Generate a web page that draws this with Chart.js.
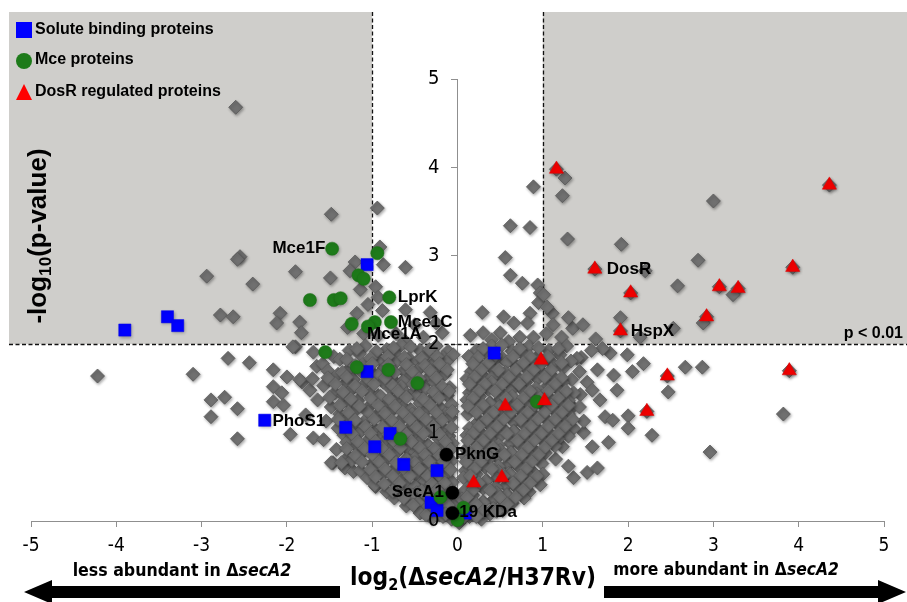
<!DOCTYPE html>
<html>
<head>
<meta charset="utf-8">
<script src="https://cdn.jsdelivr.net/npm/chart.js@4.4.1/dist/chart.umd.min.js"></script>
<style>
html,body{margin:0;padding:0;background:#fff;}
#wrap{width:907px;height:602px;}
</style>
</head>
<body>
<div id="wrap"><canvas id="c" width="907" height="602"></canvas></div>
<script>
// ---------------- DATA ----------------
const xTicks = [-5,-4,-3,-2,-1,0,1,2,3,4,5];
const yTicks = [0,1,2,3,4,5];
const legendNames = ["Solute binding proteins","Mce proteins","DosR regulated proteins"];

// all proteins (gray diamonds), [log2 ratio, -log10 p]
const allProteins = [
[-2.60,4.68],[-1.48,3.47],[-2.55,2.99],[-2.58,2.96],[-1.20,2.93],[-1.90,2.82],[-1.26,2.83],[-2.94,2.77],[-1.49,2.75],[-2.40,2.68],[-2.08,2.35],[-2.78,2.33],[-2.63,2.31],[-2.12,2.24],[-1.85,2.25],[-1.83,2.13],[-1.18,2.35],[-1.29,2.19],[-1.14,2.62],[-1.05,2.45],[-1.10,2.12],
[-0.94,3.54],[-0.91,3.10],[-0.87,2.90],[-0.61,2.87],[-0.96,2.65],[-0.93,2.53],[-0.61,2.39],[-0.32,2.36],[-0.18,2.13],[-0.88,2.38],[-0.50,2.22],[-0.72,2.12],[-0.40,2.08],[-0.93,2.10],[-0.25,2.24],[-0.62,2.04],
[0.89,3.78],[0.62,3.34],[0.85,3.32],[0.56,2.98],[0.62,2.78],[0.76,2.69],[0.94,2.67],[0.97,2.58],[0.95,2.47],[0.29,2.36],[0.54,2.31],[0.85,2.35],[0.66,2.24],[0.82,2.24],[0.30,2.13],[0.50,2.13],[0.73,2.08],[0.89,2.08],[0.40,2.05],[0.15,2.10],[0.60,2.03],
[1.16,3.98],[1.26,3.88],[1.23,3.68],[3.00,3.62],[4.36,3.80],[1.29,3.19],[1.92,3.13],[2.82,2.95],[1.61,2.85],[2.20,2.83],[3.93,2.87],[1.01,2.56],[2.58,2.66],[2.03,2.58],[3.07,2.65],[3.29,2.63],[3.23,2.56],[2.92,2.31],[2.88,2.24],[1.11,2.35],[1.35,2.18],[1.47,2.22],[1.91,2.30],[1.91,2.15],[2.53,2.18],[2.14,2.08],[1.05,2.42],[1.12,2.22],[1.22,2.08],[1.62,2.06],[1.30,2.30],[1.04,2.12],
[1.79,1.90],[1.99,1.88],[2.18,1.78],[1.64,1.71],[1.83,1.65],[2.05,1.69],[2.46,1.64],[2.67,1.74],[2.87,1.74],[3.89,1.70],[2.47,1.46],[1.87,1.48],[3.82,1.21],[2.22,1.24],[2.28,0.97],[2.96,0.78],[1.58,0.84],[1.77,0.89],[1.36,0.49],[1.52,0.55],[1.64,0.60],[1.73,1.18],[1.82,1.14],[2.00,1.19],[2.00,1.05],[1.52,1.57],[1.58,1.48],[1.67,1.37],[1.44,1.43],[1.35,1.29],[1.48,1.00],[1.23,0.84],[0.98,1.82],[1.70,1.95],[1.45,1.85],[1.30,0.62],[1.15,0.70],
[-4.22,1.64],[-3.10,1.66],[-2.69,1.84],[-2.44,1.79],[-2.16,1.71],[-2.00,1.63],[-2.89,1.37],[-2.73,1.40],[-2.58,1.27],[-2.89,1.18],[-2.58,0.93],[-1.96,0.98],[-1.69,0.94],[-1.57,0.92],[-1.90,1.97],[-2.16,1.52],[-2.06,1.45],[-2.16,1.35],[-2.04,1.31],[-1.82,1.57],[-1.73,1.48],[-1.69,1.91],[-1.93,1.97],[-1.85,1.60],[-1.46,0.66],[-1.32,0.60],[-1.22,0.56],[-0.96,0.39],[-1.78,1.20],[-1.65,1.75],
[-1.27,1.93],[-1.08,1.98],[-0.83,1.94],[-0.66,1.99],[-0.44,1.93],[-0.25,1.98],[-0.11,1.92],[-0.55,1.97],
[-1.45,1.86],[-1.15,1.89],[-0.95,1.85],[-0.74,1.90],[-0.57,1.84],[-0.36,1.89],[-0.17,1.85],[-0.05,1.88],
[-1.58,1.78],[-1.38,1.83],[-1.10,1.77],[-0.90,1.82],[-0.73,1.79],[-0.47,1.81],[-0.30,1.77],[-0.13,1.80],
[-1.52,1.70],[-1.25,1.74],[-1.04,1.69],[-0.86,1.73],[-0.63,1.70],[-0.43,1.74],[-0.22,1.69],[-0.98,1.66],
[-1.70,1.61],[-1.40,1.66],[-1.22,1.60],[-0.93,1.65],[-0.77,1.61],[-0.54,1.65],[-0.36,1.60],[-0.15,1.66],[-0.64,1.58],
[-1.57,1.53],[-1.30,1.57],[-1.12,1.52],[-0.87,1.57],[-0.66,1.52],[-0.40,1.54],[-0.27,1.57],[-0.09,1.51],
[-1.44,1.45],[-1.24,1.49],[-1.02,1.44],[-0.78,1.49],[-0.60,1.44],[-0.38,1.49],[-0.20,1.45],[-0.50,1.47],[-0.93,1.42],
[-1.64,1.37],[-1.34,1.42],[-1.17,1.36],[-0.90,1.41],[-0.72,1.37],[-0.48,1.41],[-0.32,1.36],[-0.12,1.42],
[-1.48,1.29],[-1.27,1.33],[-1.05,1.28],[-0.82,1.33],[-0.64,1.29],[-0.44,1.33],[-0.20,1.28],[-0.07,1.32],[-0.55,1.26],
[-1.38,1.21],[-1.20,1.25],[-0.94,1.20],[-0.77,1.25],[-0.53,1.21],[-0.37,1.25],[-0.14,1.21],[-1.05,1.23],
[-1.54,1.13],[-1.28,1.17],[-1.10,1.12],[-0.86,1.17],[-0.68,1.13],[-0.44,1.16],[-0.29,1.12],[-0.08,1.17],
[-1.40,1.05],[-1.22,1.09],[-0.97,1.04],[-0.80,1.09],[-0.56,1.05],[-0.40,1.09],[-0.16,1.04],[-0.62,1.00],
[-1.33,0.97],[-1.14,1.01],[-0.90,0.96],[-0.72,1.01],[-0.48,0.97],[-0.32,1.01],[-0.10,0.96],
[-1.30,0.89],[-1.03,0.93],[-0.87,0.88],[-0.61,0.93],[-0.45,0.89],[-0.22,0.93],[-0.06,0.88],[-0.35,0.86],
[-1.42,0.81],[-1.18,0.85],[-1.00,0.80],[-0.75,0.85],[-0.58,0.81],[-0.34,0.85],[-0.19,0.80],[-0.50,0.78],
[-1.28,0.73],[-1.12,0.77],[-0.88,0.72],[-0.72,0.77],[-0.48,0.73],[-0.28,0.77],[-0.14,0.72],[-0.60,0.70],
[-1.48,0.66],[-1.24,0.69],[-1.00,0.65],[-0.84,0.69],[-0.60,0.64],[-0.40,0.69],[-0.26,0.65],[-0.07,0.68],
[-1.14,0.57],[-0.93,0.61],[-0.77,0.56],[-0.53,0.61],[-0.38,0.57],[-0.16,0.61],[-0.70,0.60],
[-1.06,0.49],[-0.88,0.53],[-0.64,0.48],[-0.49,0.53],[-0.27,0.49],[-0.13,0.53],[-0.40,0.46],
[-0.97,0.41],[-0.76,0.45],[-0.60,0.40],[-0.38,0.45],[-0.24,0.41],[-0.06,0.44],[-0.50,0.39],
[-0.83,0.33],[-0.70,0.37],[-0.48,0.32],[-0.35,0.37],[-0.14,0.34],[-0.58,0.30],
[-0.74,0.26],[-0.53,0.29],[-0.42,0.24],[-0.23,0.29],[-0.11,0.25],
[-0.60,0.17],[-0.46,0.21],[-0.28,0.17],[-0.18,0.21],[-0.04,0.18],[-0.37,0.14],
[-0.44,0.09],[-0.30,0.13],[-0.22,0.08],[-0.10,0.12],
[-0.30,0.03],[-0.17,0.05],[-0.07,0.02],[0.02,-0.02],
[-1.18,1.95],[-0.95,1.92],[-0.75,1.96],[-0.33,1.94],[-1.30,1.83],[-1.02,1.84],[-0.82,1.86],[-0.62,1.85],[-0.42,1.84],[-0.24,1.86],
[-1.20,1.76],[-1.00,1.78],[-0.81,1.77],[-0.60,1.77],[-0.38,1.76],[-0.21,1.78],[-1.35,1.68],[-1.14,1.70],[-0.74,1.68],[-0.53,1.69],
[-0.32,1.70],[-0.12,1.71],[-1.52,1.62],[-1.30,1.63],[-1.05,1.61],[-0.85,1.62],[-0.45,1.61],[-0.25,1.62],[-1.43,1.55],[-1.20,1.53],
[-0.98,1.55],[-0.76,1.53],[-0.52,1.55],[-0.18,1.52],[-1.34,1.46],[-1.12,1.47],[-0.70,1.47],[-0.28,1.46],[-0.10,1.47],[-1.50,1.40],
[-1.25,1.38],[-1.02,1.39],[-0.80,1.38],[-0.60,1.40],[-0.40,1.38],[-0.22,1.39],[-1.38,1.31],[-1.15,1.30],[-0.93,1.31],[-0.73,1.30],
[-0.32,1.31],[-1.28,1.23],[-0.85,1.22],[-0.64,1.23],[-0.45,1.22],[-0.25,1.23],[-0.06,1.24],[-1.40,1.15],[-1.20,1.14],[-0.98,1.15],
[-0.77,1.14],[-0.56,1.15],[-0.37,1.15],[-0.18,1.14],[-1.30,1.06],[-1.08,1.07],[-0.88,1.06],[-0.68,1.07],[-0.48,1.06],[-0.28,1.07],
[-0.07,1.06],[-1.23,0.98],[-1.02,0.99],[-0.81,0.98],[-0.60,0.98],[-0.40,0.99],[-0.21,0.98],[-1.17,0.90],[-0.96,0.90],[-0.74,0.90],
[-0.54,0.90],[-0.14,0.90],[-1.30,0.82],[-1.09,0.82],[-0.88,0.82],[-0.67,0.83],[-0.44,0.83],[-0.27,0.82],[-0.08,0.81],[-1.20,0.74],
[-1.00,0.75],[-0.80,0.75],[-0.38,0.75],[-0.21,0.74],[-1.36,0.66],[-1.12,0.67],[-0.92,0.67],[-0.72,0.66],[-0.50,0.66],[-0.33,0.67],
[-0.16,0.67],[-1.02,0.58],[-0.85,0.59],[-0.62,0.58],[-0.45,0.59],[-0.27,0.58],[-0.08,0.58],[-0.96,0.50],[-0.76,0.51],[-0.56,0.51],
[-0.35,0.51],[-0.20,0.50],[-0.86,0.42],[-0.68,0.43],[-0.30,0.42],[-0.15,0.43],[-0.76,0.34],[-0.42,0.34],[-0.24,0.35],[-0.07,0.34],
[-0.63,0.26],[-0.32,0.26],[-0.17,0.27],[-0.52,0.18],[-0.11,0.18],[-0.37,0.07],[-0.14,0.08],
[0.22,1.93],[0.40,1.98],[0.64,1.92],[0.83,1.97],[1.07,1.93],[1.28,1.98],[1.57,1.93],[0.52,1.99],
[0.13,1.86],[0.34,1.89],[0.53,1.84],[0.77,1.89],[0.93,1.85],[1.20,1.88],[1.40,1.84],
[0.27,1.77],[0.43,1.82],[0.68,1.76],[0.86,1.81],[1.12,1.78],[1.33,1.81],[0.58,1.80],
[0.16,1.69],[0.40,1.73],[0.56,1.68],[0.80,1.73],[0.98,1.69],[1.24,1.73],[1.43,1.69],
[0.11,1.61],[0.28,1.66],[0.52,1.60],[0.68,1.65],[0.94,1.61],[1.10,1.65],[1.34,1.60],[0.40,1.62],
[0.24,1.53],[0.40,1.57],[0.64,1.52],[0.80,1.57],[1.06,1.53],[1.23,1.57],[0.92,1.50],
[0.14,1.45],[0.36,1.49],[0.52,1.44],[0.76,1.49],[0.93,1.44],[1.18,1.49],[1.36,1.45],[0.62,1.47],
[0.11,1.37],[0.26,1.41],[0.49,1.36],[0.64,1.41],[0.88,1.37],[1.06,1.41],[1.30,1.36],[0.38,1.34],
[0.21,1.29],[0.38,1.33],[0.62,1.28],[0.78,1.33],[1.02,1.29],[1.18,1.33],[1.43,1.29],[0.50,1.30],
[0.12,1.21],[0.34,1.25],[0.50,1.20],[0.74,1.25],[0.90,1.20],[1.14,1.25],[1.30,1.21],[0.62,1.18],
[0.26,1.13],[0.42,1.17],[0.66,1.12],[0.82,1.17],[1.06,1.13],[1.22,1.17],[1.48,1.13],[0.20,1.08],
[0.14,1.05],[0.37,1.09],[0.54,1.04],[0.78,1.09],[0.94,1.04],[1.18,1.09],[1.36,1.05],[0.66,1.02],
[0.11,0.97],[0.26,1.01],[0.50,0.96],[0.66,1.01],[0.90,0.97],[1.06,1.01],[1.30,0.96],
[0.21,0.89],[0.38,0.93],[0.62,0.88],[0.78,0.93],[1.02,0.89],[1.18,0.93],[0.48,0.86],
[0.10,0.81],[0.34,0.85],[0.50,0.80],[0.74,0.85],[0.90,0.80],[1.14,0.85],[0.62,0.78],
[0.09,0.73],[0.24,0.77],[0.47,0.72],[0.63,0.77],[0.87,0.73],[1.03,0.77],[0.36,0.70],
[0.18,0.65],[0.35,0.69],[0.59,0.64],[0.75,0.69],[0.99,0.65],[0.48,0.62],
[0.09,0.57],[0.32,0.61],[0.48,0.56],[0.72,0.61],[0.88,0.56],[0.60,0.54],
[0.07,0.49],[0.22,0.53],[0.46,0.48],[0.62,0.53],[0.86,0.49],[1.00,0.53],[0.34,0.46],
[0.16,0.41],[0.33,0.45],[0.57,0.40],[0.73,0.45],[0.97,0.41],[0.45,0.38],
[0.07,0.33],[0.30,0.37],[0.46,0.32],[0.70,0.37],[0.84,0.33],[0.58,0.30],
[0.05,0.25],[0.18,0.29],[0.42,0.24],[0.58,0.29],[0.78,0.26],[0.30,0.22],
[0.13,0.17],[0.30,0.21],[0.52,0.16],[0.64,0.20],[0.42,0.14],
[0.06,0.09],[0.21,0.13],[0.38,0.08],[0.53,0.12],
[0.03,0.03],[0.14,0.05],[0.28,0.02],
[0.30,1.95],[0.73,1.95],[0.95,1.96],[1.18,1.95],[0.24,1.85],[0.44,1.87],[0.65,1.86],[0.85,1.86],[1.06,1.86],[0.18,1.78],
[0.36,1.79],[0.77,1.79],[0.98,1.78],[1.22,1.79],[0.28,1.71],[0.48,1.71],[0.68,1.71],[0.89,1.71],[1.10,1.71],[0.20,1.63],
[0.60,1.63],[0.81,1.63],[1.02,1.63],[1.22,1.62],[0.14,1.55],[0.32,1.55],[0.52,1.55],[0.72,1.55],[1.14,1.55],[0.25,1.47],
[0.44,1.47],[0.85,1.47],[1.06,1.47],[1.27,1.47],[0.18,1.39],[0.57,1.39],[0.77,1.39],[0.97,1.39],[1.18,1.39],[0.12,1.30],
[0.30,1.31],[0.70,1.31],[0.90,1.31],[1.10,1.31],[1.30,1.31],[0.22,1.23],[0.42,1.23],[0.62,1.23],[0.82,1.23],[1.02,1.23],
[1.22,1.23],[0.34,1.15],[0.54,1.15],[0.74,1.15],[0.94,1.15],[1.14,1.15],[1.35,1.15],[0.25,1.07],[0.46,1.07],[0.86,1.07],
[1.06,1.07],[1.26,1.07],[0.18,0.99],[0.38,0.99],[0.58,0.99],[0.78,0.99],[0.98,0.99],[1.18,0.99],[0.12,0.91],[0.30,0.91],
[0.70,0.91],[0.90,0.91],[1.10,0.91],[0.22,0.83],[0.42,0.83],[0.82,0.83],[1.02,0.83],[0.16,0.75],[0.34,0.75],[0.55,0.75],
[0.75,0.75],[0.95,0.75],[0.10,0.67],[0.27,0.67],[0.67,0.67],[0.87,0.67],[0.20,0.59],[0.40,0.59],[0.80,0.59],[0.15,0.51],
[0.54,0.51],[0.74,0.51],[0.93,0.51],[0.25,0.43],[0.65,0.43],[0.85,0.43],[0.18,0.35],[0.38,0.35],[0.77,0.35],[0.11,0.27],
[0.50,0.27],[0.68,0.27],[0.22,0.19],[0.58,0.19],[0.14,0.11],[0.30,0.11],[0.46,0.11],[0.08,0.05],[0.22,0.05]
];

// Solute binding proteins (blue squares)
const soluteBinding = [
[-3.90,2.16],[-3.40,2.31],[-3.28,2.21],[-1.06,2.90],[0.43,1.90],[-2.26,1.14],[-1.31,1.06],[-0.79,0.99],[-0.97,0.84],[-0.63,0.64],[-0.24,0.57],[-0.31,0.21],[-0.24,0.12],[-1.06,1.69],[0.09,0.09]
];
// Mce proteins (green circles)
const mceProteins = [
[-1.47,3.08],[-0.94,3.03],[-1.16,2.78],[-1.10,2.74],[-0.80,2.53],[-1.73,2.50],[-1.45,2.50],[-1.37,2.52],[-1.24,2.23],[-0.97,2.25],[-0.78,2.25],[-1.05,2.20],[-1.55,1.91],[-1.18,1.74],[-0.81,1.71],[-0.47,1.56],[-0.67,0.93],[-0.20,0.27],[0.93,1.35],[0.07,0.15],[0.00,0.01]
];
// DosR regulated proteins (red triangles)
const dosRRegulated = [
[1.16,3.98],[4.36,3.80],[1.61,2.85],[3.93,2.87],[2.03,2.58],[3.07,2.65],[3.29,2.63],[2.92,2.31],[1.91,2.15],[0.98,1.82],[2.46,1.64],[3.89,1.70],[0.56,1.30],[1.02,1.36],[2.22,1.24],[0.19,0.43],[0.52,0.49]
];
// other named proteins (black circles)
const namedProteins = [[-0.13,0.75],[-0.06,0.32],[-0.06,0.09]];

// point labels: [text, x, y, align]
const pointLabels = [
["Mce1F",-1.55,3.08,"right"],["LprK",-0.70,2.53,"left"],["Mce1C",-0.70,2.25,"left"],["Mce1A",-1.06,2.11,"left"],
["DosR",1.75,2.85,"left"],["HspX",2.03,2.15,"left"],["PhoS1",-2.17,1.13,"left"],
["PknG",-0.03,0.75,"left"],["SecA1",-0.16,0.33,"right"],["19 KDa",0.02,0.10,"left"]
];
const foldCut = 1;     // |log2| threshold
const pCut = 2;        // -log10(0.01)

// ---------------- RENDER ----------------
const NARROW = '"Liberation Sans Narrow","DejaVu Sans Condensed","Liberation Sans",Arial,sans-serif';
const SANS = '"Liberation Sans",Arial,sans-serif';
const toXY = a => a.map(p => ({x:p[0], y:p[1]}));

function drawRich(ctx, parts, x, y, align, size, family, weight){
  const fonts = parts.map(p => (p.i?'italic ':'') + weight + ' ' + Math.round((p.sub?size*0.66:size)*10)/10 + 'px ' + family);
  const widths = parts.map((p,i) => { ctx.font = fonts[i]; return ctx.measureText(p.t).width; });
  const total = widths.reduce((a,b)=>a+b,0);
  let cx = align==='center' ? x-total/2 : (align==='right' ? x-total : x);
  ctx.textAlign='left'; ctx.textBaseline='middle';
  parts.forEach((p,i)=>{ ctx.font = fonts[i]; ctx.fillText(p.t, cx, p.sub ? y+size*0.28 : y); cx += widths[i]; });
  return total;
}
function fitRich(ctx, parts, x, y, align, width, family, weight){
  ctx.save(); ctx.globalAlpha=0;
  const w = drawRich(ctx, parts, 0, -100, 'left', 20, family, weight);
  ctx.restore();
  const size = 20*width/w;
  drawRich(ctx, parts, x, y, align, size, family, weight);
}

const bgPlugin = {
  id:'bg',
  beforeDraw(chart){
    const {ctx, scales:{x,y}} = chart;
    ctx.save();
    ctx.fillStyle='#fff'; ctx.fillRect(0,0,chart.width,chart.height);
    ctx.fillStyle='#cfcecb';
    const yp = y.getPixelForValue(pCut);
    ctx.fillRect(9,12,x.getPixelForValue(-foldCut)-9, yp-12);
    ctx.fillRect(x.getPixelForValue(foldCut),12, chart.width-x.getPixelForValue(foldCut), yp-12);
    ctx.restore();
  },
  beforeDatasetsDraw(chart){
    const {ctx, scales:{x,y}} = chart;
    const yp = Math.round(y.getPixelForValue(pCut))+0.5;
    ctx.save();
    ctx.strokeStyle='#111'; ctx.lineWidth=1.3; ctx.setLineDash([4,2.5]);
    ctx.beginPath(); ctx.moveTo(9,yp); ctx.lineTo(chart.width,yp); ctx.stroke();
    [-foldCut, foldCut].forEach(v=>{
      const xp = Math.round(x.getPixelForValue(v))+0.5;
      ctx.beginPath(); ctx.moveTo(xp,12); ctx.lineTo(xp,yp); ctx.stroke();
    });
    ctx.restore();
  },
  beforeDatasetDraw(chart, args){
    const ctx = chart.ctx;
    ctx.save();
    ctx.shadowColor = args.index===0 ? 'rgba(0,0,0,0.35)' : 'rgba(0,0,0,0.25)';
    ctx.shadowBlur = 3; ctx.shadowOffsetX = 1; ctx.shadowOffsetY = 1.5;
  },
  afterDatasetDraw(chart){ chart.ctx.restore(); },
  afterDatasetsDraw(chart){
    const {ctx, scales:{x,y}} = chart;
    ctx.save();
    ctx.fillStyle='#000';
    ctx.font = 'bold 17px '+SANS; ctx.textBaseline='middle';
    pointLabels.forEach(l=>{ ctx.textAlign=l[3]; ctx.fillText(l[0], x.getPixelForValue(l[1]), y.getPixelForValue(l[2])); });
    ctx.font='bold 16px '+SANS; ctx.textAlign='right';
    ctx.fillText('p < 0.01', 903, y.getPixelForValue(pCut)-11);
    // legend
    ctx.fillStyle='#0000ff'; ctx.fillRect(16,22,16,16);
    ctx.fillStyle='#1e7b1a'; ctx.beginPath(); ctx.arc(24,61,8,0,Math.PI*2); ctx.fill();
    ctx.fillStyle='#ff0000'; ctx.beginPath(); ctx.moveTo(24,84); ctx.lineTo(32,100); ctx.lineTo(16,100); ctx.closePath(); ctx.fill();
    ctx.fillStyle='#000'; ctx.font='bold 16px '+SANS; ctx.textAlign='left';
    ctx.fillText(legendNames[0],35,30); ctx.fillText(legendNames[1],35,60); ctx.fillText(legendNames[2],35,92);
    // y title
    ctx.save(); ctx.translate(39,236); ctx.rotate(-Math.PI/2);
    drawRich(ctx,[{t:'-log'},{t:'10',sub:true},{t:'(p-value)'}],0,0,'center',26,SANS,'bold');
    ctx.restore();
    // x title + direction notes
    fitRich(ctx,[{t:'log'},{t:'2',sub:true},{t:'(\u0394'},{t:'secA2',i:true},{t:'/H37Rv)'}],473,579,'center',246,NARROW,'bold');
    fitRich(ctx,[{t:'less abundant in \u0394'},{t:'secA2',i:true}],182,571,'center',219,NARROW,'bold');
    fitRich(ctx,[{t:'more abundant in \u0394'},{t:'secA2',i:true}],726,571,'center',226,NARROW,'bold');
    // arrows
    ctx.beginPath();
    ctx.moveTo(24,592); ctx.lineTo(52,580); ctx.lineTo(52,586); ctx.lineTo(340,586); ctx.lineTo(340,598); ctx.lineTo(52,598); ctx.lineTo(52,604); ctx.closePath(); ctx.fill();
    ctx.beginPath();
    ctx.moveTo(906,592); ctx.lineTo(878,580); ctx.lineTo(878,586); ctx.lineTo(604,586); ctx.lineTo(604,598); ctx.lineTo(878,598); ctx.lineTo(878,604); ctx.closePath(); ctx.fill();
    ctx.restore();
  }
};

const axisColor = '#8f8f8f';
new Chart(document.getElementById('c'), {
  type:'scatter',
  data:{datasets:[
    {label:'all', order:5, data:toXY(allProteins), pointStyle:'rectRot', radius:7, backgroundColor:'#707070', borderColor:'rgba(90,90,90,0.8)', borderWidth:1, clip:false},
    {label:legendNames[0], order:4, data:toXY(soluteBinding), pointStyle:'rect', radius:8.6, backgroundColor:'#0000ff', borderColor:'#0000ee', borderWidth:0.5, clip:false},
    {label:legendNames[1], order:3, data:toXY(mceProteins), pointStyle:'circle', radius:6.6, backgroundColor:'#1e7b1a', borderColor:'#1a6e16', borderWidth:0.5, clip:false},
    {label:legendNames[2], order:2, data:toXY(dosRRegulated), pointStyle:'triangle', radius:8.2, backgroundColor:'#f00000', borderColor:'#e00000', borderWidth:0.5, clip:false},
    {label:'named', order:1, data:toXY(namedProteins), pointStyle:'circle', radius:6.6, backgroundColor:'#000', borderColor:'#000', borderWidth:0.5, clip:false}
  ]},
  options:{
    responsive:false, animation:false, events:[],
    layout:{padding:{left:31,right:23,top:79,bottom:81}},
    plugins:{legend:{display:false}, tooltip:{enabled:false}},
    scales:{
      x:{type:'linear', min:-5, max:5, position:{y:0},
        afterBuildTicks(s){ s.ticks = xTicks.map(v=>({value:v})); },
        afterFit(s){ s.height = 0; },
        ticks:{color:'#000', font:{family:NARROW, size:19}, padding:9, maxRotation:0, autoSkip:false},
        grid:{drawOnChartArea:false, drawTicks:true, tickLength:5, color:axisColor},
        border:{display:true, color:axisColor, width:1}},
      y:{type:'linear', min:0, max:5, position:{x:0},
        afterBuildTicks(s){ s.ticks = yTicks.map(v=>({value:v})); },
        afterFit(s){ s.width = 0; },
        ticks:{z:1, color:'#000', font:{family:NARROW, size:20}, autoSkip:false,
               callback:(v)=> v + '\u2002\u2002'},
        grid:{drawOnChartArea:false, drawTicks:true, tickLength:6, color:axisColor},
        border:{display:true, color:axisColor, width:1}}
    }
  },
  plugins:[bgPlugin]
});
</script>
</body>
</html>
